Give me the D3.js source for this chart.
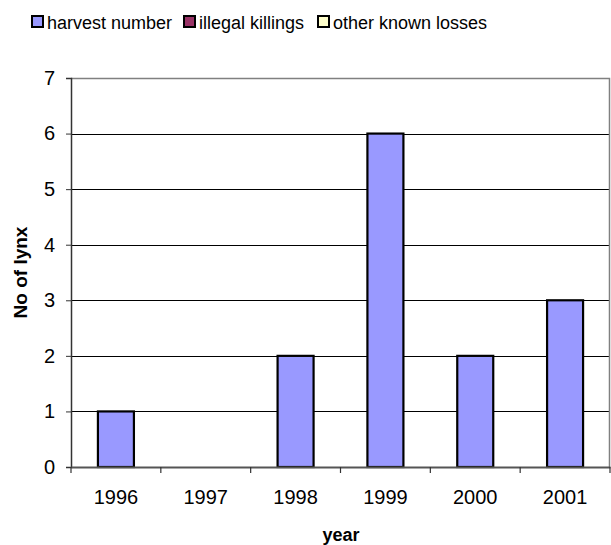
<!DOCTYPE html>
<html><head><meta charset="utf-8">
<script src="https://cdn.jsdelivr.net/npm/d3@7"></script>
<style>body{margin:0;background:#fff}svg{display:block;font-family:"Liberation Sans",Arial,sans-serif}</style>
</head><body><svg id="c" width="611" height="545"></svg>
<script>
const years = ["1996","1997","1998","1999","2000","2001"];
const harvest = [1,0,2,6,2,3];
const illegal = [0,0,0,0,0,0];
const otherLosses = [0,0,0,0,0,0];
const seriesNames = ["harvest number","illegal killings","other known losses"];
const seriesColors = ["#9999FF","#993366","#FFFFCC"];
const yTicks = [0,1,2,3,4,5,6,7];

const svg = d3.select("#c");
const L = 71, R = 610, T = 78, B = 467;
const x = d3.scaleBand().domain(years).range([L,R]);
const y = d3.scaleLinear().domain([0,7]).range([B,T]);

// gridlines
svg.append("g").selectAll("line").data(yTicks.filter(d=>d>0&&d<7)).join("line")
  .attr("x1",L).attr("x2",R).attr("y1",d=>Math.round(y(d))+0.5).attr("y2",d=>Math.round(y(d))+0.5)
  .attr("stroke","#000").attr("stroke-width",1);
// plot border top/right
svg.append("path").attr("d",`M${L},${T+0.5}H${R-0.5}V${B}`).attr("fill","none").attr("stroke","#808080").attr("stroke-width",1.5);

// bars
const bw = 36;
svg.append("g").selectAll("rect").data(years.map((d,i)=>({yr:d,v:harvest[i]})).filter(d=>d.v>0)).join("rect")
  .attr("x",d=>x(d.yr)+x.bandwidth()/2-bw/2).attr("width",bw)
  .attr("y",d=>y(d.v)).attr("height",d=>y(0)-y(d.v))
  .attr("fill",seriesColors[0]).attr("stroke","#000").attr("stroke-width",2.2);

// y axis
const ya = svg.append("g").attr("transform",`translate(${L},0)`)
  .call(d3.axisLeft(y).tickValues(yTicks).tickSize(5).tickPadding(11).tickFormat(d3.format("d")));
ya.select(".domain").attr("stroke","#333").attr("stroke-width",1.5);
ya.selectAll(".tick line").attr("stroke","#333");
ya.selectAll("text").attr("font-size",20).attr("font-family","Liberation Sans, Arial, sans-serif").attr("fill","#000");

// x axis
const xa = svg.append("g").attr("transform",`translate(0,${B})`)
  .call(d3.axisBottom(x).tickSize(0).tickPadding(23));
xa.select(".domain").attr("stroke","#555").attr("stroke-width",2);
xa.selectAll("text").attr("font-size",20).attr("font-family","Liberation Sans, Arial, sans-serif").attr("fill","#000");
// category boundary ticks
svg.append("g").selectAll("line").data(years.map(d=>x(d)).concat([R])).join("line")
  .attr("x1",d=>d).attr("x2",d=>d).attr("y1",B).attr("y2",B+6).attr("stroke","#333").attr("stroke-width",1.2);

// titles
svg.append("text").attr("x",341).attr("y",541).attr("text-anchor","middle")
  .attr("font-weight","bold").attr("font-size",18).text("year");
svg.append("text").attr("transform",`translate(27,${(T+B)/2}) rotate(-90)`).attr("text-anchor","middle")
  .attr("font-weight","bold").attr("font-size",19).text("No of lynx");

// legend
const lg = svg.append("g");
const lx = [32,184,318];
seriesNames.forEach((n,i)=>{
  lg.append("rect").attr("x",lx[i]).attr("y",16).attr("width",11).attr("height",11)
    .attr("fill",seriesColors[i]).attr("stroke","#000").attr("stroke-width",2);
  lg.append("text").attr("x",lx[i]+15).attr("y",29).attr("font-size",18).text(n);
});
</script></body></html>
